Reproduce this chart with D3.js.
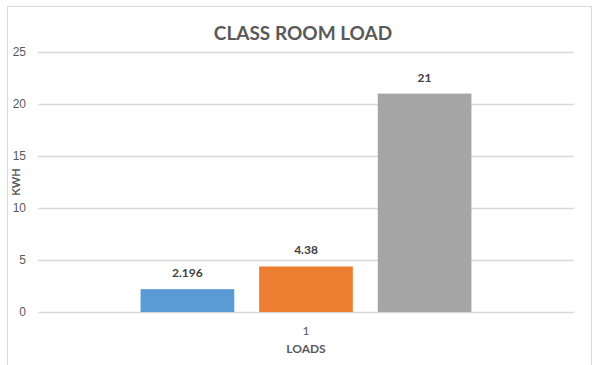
<!DOCTYPE html>
<html>
<head>
<meta charset="utf-8">
<script src="https://cdn.jsdelivr.net/npm/d3@7"></script>
<style>
  html, body { margin: 0; padding: 0; background: #fff; }
  svg { display: block; font-family: Lato, "Open Sans", sans-serif; }
</style>
</head>
<body>
<svg id="chart" width="593" height="365"></svg>
<script>
// Class room load, one category with three load components (kWh)
const categories = ["1"];
const seriesNames = ["Series1", "Series2", "Series3"];
const seriesValues = [2.196, 4.38, 21];
const seriesColors = ["#5B9BD5", "#ED7D31", "#A5A5A5"];
const yTicks = [0, 5, 10, 15, 20, 25];
const titleText = "CLASS ROOM LOAD";
const xTitle = "LOADS";
const yTitle = "KWH";

const svg = d3.select("#chart");
const W = 593, H = 365;
const plot = { left: 38, right: 574, top: 52, bottom: 312 };

// chart frame
svg.append("rect")
  .attr("x", 7.5).attr("y", 6.5)
  .attr("width", 584).attr("height", 370)
  .attr("fill", "#fff").attr("stroke", "#D9D9D9").attr("stroke-width", 1);

const y = d3.scaleLinear().domain([0, 25]).range([plot.bottom, plot.top]);

const x0 = d3.scaleBand().domain(categories)
  .range([plot.left, plot.right]).paddingInner(0).paddingOuter(0.31);
const x1 = d3.scaleBand().domain(seriesNames)
  .range([0, x0.bandwidth()]).paddingInner(0.21).paddingOuter(0);

// horizontal gridlines
const yAxis = d3.axisLeft(y).tickValues(yTicks)
  .tickSize(-(plot.right - plot.left)).tickPadding(12).tickFormat(d3.format("d"));
const gy = svg.append("g")
  .attr("transform", `translate(${plot.left},0)`)
  .call(yAxis);
gy.select(".domain").remove();
gy.selectAll(".tick line").attr("stroke", "#D9D9D9").attr("stroke-width", 1.3);
gy.selectAll(".tick text")
  .attr("fill", "#595959").attr("font-size", 12).attr("x", -12);

// bars
const cat = svg.append("g")
  .selectAll("g").data(categories).join("g")
  .attr("transform", d => `translate(${x0(d)},0)`);

const barData = seriesNames.map((s, i) => ({ s, v: seriesValues[i], c: seriesColors[i] }));

cat.selectAll("rect").data(barData).join("rect")
  .attr("x", d => x1(d.s))
  .attr("y", d => y(d.v))
  .attr("width", x1.bandwidth())
  .attr("height", d => y(0) - y(d.v))
  .attr("fill", d => d.c);

// value labels
cat.selectAll("text.val").data(barData).join("text")
  .attr("class", "val")
  .attr("x", d => x1(d.s) + x1.bandwidth() / 2)
  .attr("y", d => y(d.v) - 12)
  .attr("text-anchor", "middle")
  .attr("font-size", 12).attr("font-weight", "bold")
  .attr("fill", "#404040")
  .text(d => d.v);

// category axis label
const xAxis = d3.axisBottom(x0).tickSize(0).tickPadding(14);
const gx = svg.append("g")
  .attr("transform", `translate(0,${plot.bottom})`)
  .call(xAxis);
gx.select(".domain").remove();
gx.selectAll(".tick text").attr("fill", "#595959").attr("font-size", 12)
  .attr("font-family", "Lato, sans-serif");

// titles
svg.append("text")
  .attr("x", 303).attr("y", 40)
  .attr("text-anchor", "middle")
  .attr("font-size", 19).attr("font-weight", "bold")
  .attr("fill", "#595959")
  .text(titleText);

svg.append("text")
  .attr("x", (plot.left + plot.right) / 2).attr("y", 353)
  .attr("text-anchor", "middle")
  .attr("font-size", 12).attr("font-weight", "bold")
  .attr("fill", "#595959")
  .text(xTitle);

svg.append("text")
  .attr("transform", `translate(20,${(plot.top + plot.bottom) / 2}) rotate(-90)`)
  .attr("text-anchor", "middle")
  .attr("font-size", 11).attr("font-weight", "bold")
  .attr("fill", "#595959")
  .text(yTitle);
</script>
</body>
</html>
